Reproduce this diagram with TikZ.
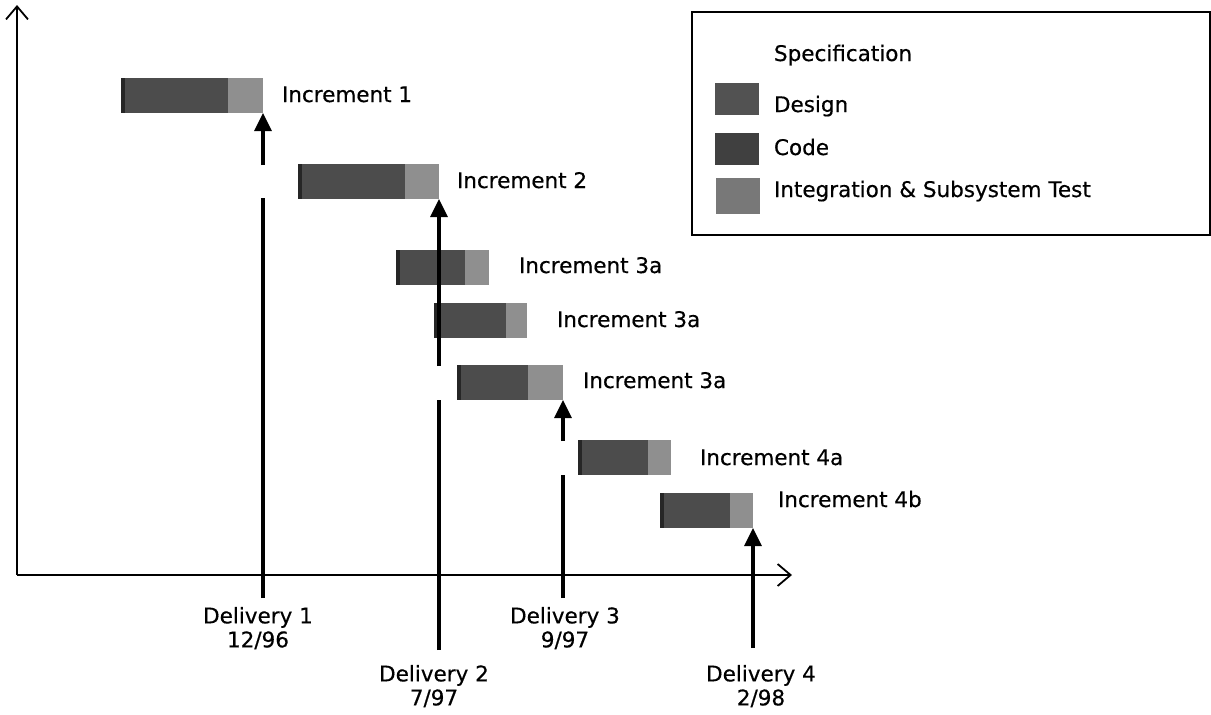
\documentclass[tikz,border=0pt]{standalone}
\usepackage{fontspec}
\setmainfont{DejaVu Sans}[FakeBold=0.5]
\usetikzlibrary{arrows.meta}
\definecolor{barDark}{gray}{0.30}
\definecolor{barLight}{gray}{0.56}
\definecolor{barEdge}{gray}{0.15}
\definecolor{swDesign}{gray}{0.32}
\definecolor{swCode}{gray}{0.25}
\definecolor{swTest}{gray}{0.47}
\tikzset{
  every node/.style={outer sep=0pt},
  lbl/.style={font=\fontsize{21.5}{24}\selectfont, inner sep=0pt, anchor=base west},
  dlbl/.style={font=\fontsize{21.5}{24}\selectfont, inner sep=0pt, anchor=north, align=center},
  darkpart/.style={fill=barDark, draw=none, inner sep=0pt, anchor=north west, minimum height=35pt},
  lightpart/.style={fill=barLight, draw=none, inner sep=0pt, anchor=north west, minimum height=35pt},
  axisline/.style={line width=1.8pt, -{Straight Barb[length=13pt,width=22pt,line width=1.8pt]}},
  delline/.style={line width=3.2pt},
  delarrow/.style={line width=3.2pt, -{Triangle[length=18pt,width=17pt]}},
  swatch/.style={draw=none, inner sep=0pt, minimum width=44pt, minimum height=32pt, anchor=north west}
}
\begin{document}
\begin{tikzpicture}[x=1pt,y=-1pt]
\useasboundingbox (0,0) rectangle (1211,715);
% axes
\coordinate (O) at (17,575);
\coordinate (ytop) at (17,5);
\coordinate (xend) at (792,575);
\draw[axisline] (O) -- (ytop);
\draw[axisline] (O) -- (xend);

% bars
\newcommand{\incbar}[8]{% name, x, y, darkw, lightw, labelx, baseline, text
  \node[darkpart, minimum width=#4pt] (#1d) at (#2,#3) {};
  \node[lightpart, minimum width=#5pt] (#1l) at (#1d.north east) {};
  \fill[barEdge] (#1d.north west) rectangle ([xshift=4pt]#1d.south west);
  \node[lbl] (#1t) at (#6,#7) {#8};
}
\incbar{b1}{121}{78}{107}{35}{282}{102}{Increment 1}
\incbar{b2}{298}{164}{107}{34}{457}{188}{Increment 2}
\incbar{b3}{396}{250}{69}{24}{519}{273}{Increment 3a}
\incbar{b4}{434}{303}{72}{21}{557}{327}{Increment 3a}
\incbar{b5}{457}{365}{71}{35}{583}{388}{Increment 3a}
\incbar{b6}{578}{440}{70}{23}{700}{465}{Increment 4a}
\incbar{b7}{660}{493}{70}{23}{778}{507}{Increment 4b}

% delivery 1
\coordinate (d1b) at (263,598);
\coordinate (d1g) at (263,198);
\coordinate (d1a) at (263,165);
\draw[delline] (d1b) -- (d1g);
\draw[delarrow] (d1a) -- (b1l.south east);
\node[dlbl] (dl1) at (258,607) {Delivery 1\\12/96};
% delivery 2
\coordinate (d2b) at (439,650);
\coordinate (d2g) at (439,400);
\coordinate (d2a) at (439,366);
\draw[delline] (d2b) -- (d2g);
\draw[delarrow] (d2a) -- (b2l.south east);
\node[dlbl] (dl2) at (434,665) {Delivery 2\\7/97};
% delivery 3
\coordinate (d3b) at (563,598);
\coordinate (d3g) at (563,475);
\coordinate (d3a) at (563,441);
\draw[delline] (d3b) -- (d3g);
\draw[delarrow] (d3a) -- (b5l.south east);
\node[dlbl] (dl3) at (565,607) {Delivery 3\\9/97};
% delivery 4
\coordinate (d4b) at (753,648);
\draw[delarrow] (d4b) -- (b7l.south east);
\node[dlbl] (dl4) at (761,665) {Delivery 4\\2/98};

% legend
\node[draw, line width=1.2pt, inner sep=0pt, minimum width=518pt, minimum height=223pt, anchor=north west] (leg) at (692,12) {};
\node[lbl] (ls) at (774,61) {Specification};
\node[swatch, fill=swDesign] (sw1) at (715,83) {};
\node[lbl] (lt1) at (774,112) {Design};
\node[swatch, fill=swCode] (sw2) at (715,133) {};
\node[lbl] (lt2) at (774,155) {Code};
\node[swatch, fill=swTest, minimum height=36pt] (sw3) at (716,178) {};
\node[lbl] (lt3) at (774,197) {Integration \& Subsystem Test};
\end{tikzpicture}
\end{document}
